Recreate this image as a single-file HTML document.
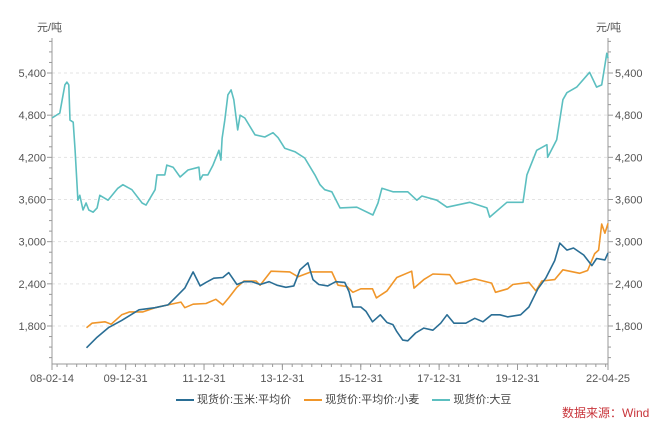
<!DOCTYPE html>
<html><head><meta charset="utf-8"><style>
body{margin:0;background:#fff;}
svg{display:block;font-family:"Liberation Sans","Noto Sans CJK SC",sans-serif;}
</style></head><body>
<svg id="c" width="660" height="426"></svg>
<script>
const yTicks=[1800,2400,3000,3600,4200,4800,5400];
const xTickLabels=["08-02-14","09-12-31","11-12-31","13-12-31","15-12-31","17-12-31","19-12-31","22-04-25"];
const xTickTimes=[2008.12,2010.0,2012.0,2014.0,2016.0,2018.0,2020.0,2022.31];
const cornT=[2009.0,2009.27,2009.57,2009.9,2010.34,2010.75,2011.08,2011.28,2011.51,2011.72,2011.9,2012.05,2012.25,2012.48,2012.63,2012.84,2013.02,2013.22,2013.43,2013.66,2013.86,2014.09,2014.29,2014.45,2014.65,2014.78,2014.93,2015.16,2015.36,2015.59,2015.7,2015.8,2016.0,2016.13,2016.3,2016.5,2016.67,2016.82,2016.92,2017.07,2017.2,2017.4,2017.61,2017.84,2018.04,2018.2,2018.38,2018.68,2018.91,2019.12,2019.34,2019.55,2019.75,2020.08,2020.29,2020.52,2020.72,2020.95,2021.08,2021.26,2021.43,2021.69,2021.9,2022.02,2022.23,2022.31];
const cornV=[1490,1640,1780,1880,2030,2060,2100,2210,2340,2570,2370,2420,2480,2490,2560,2390,2430,2430,2390,2430,2380,2350,2370,2600,2700,2460,2390,2370,2430,2420,2290,2070,2070,2010,1860,1960,1850,1820,1720,1600,1590,1700,1770,1740,1840,1960,1840,1840,1910,1860,1960,1960,1930,1960,2070,2330,2480,2730,2980,2880,2910,2810,2660,2760,2740,2840];
const wheatT=[2009.0,2009.14,2009.47,2009.63,2009.9,2010.1,2010.44,2010.75,2011.08,2011.41,2011.51,2011.72,2012.05,2012.3,2012.48,2012.63,2012.84,2013.02,2013.33,2013.43,2013.71,2014.19,2014.4,2014.73,2015.26,2015.42,2015.65,2015.8,2016.0,2016.3,2016.4,2016.67,2016.92,2017.3,2017.36,2017.61,2017.84,2018.27,2018.43,2018.91,2019.34,2019.44,2019.75,2019.88,2020.29,2020.47,2020.62,2020.95,2021.16,2021.59,2021.79,2021.97,2022.07,2022.15,2022.23,2022.31];
const wheatV=[1775,1840,1860,1825,1960,2000,2000,2060,2100,2140,2060,2110,2120,2180,2100,2200,2350,2440,2440,2380,2580,2570,2500,2570,2570,2380,2360,2280,2330,2330,2200,2300,2490,2580,2340,2460,2540,2530,2400,2470,2410,2280,2330,2390,2420,2300,2440,2460,2600,2550,2590,2830,2880,3250,3120,3260];
const soyT=[2008.12,2008.32,2008.38,2008.45,2008.5,2008.55,2008.58,2008.66,2008.71,2008.78,2008.83,2008.91,2008.99,2009.06,2009.17,2009.27,2009.34,2009.55,2009.8,2009.93,2010.16,2010.42,2010.52,2010.75,2010.8,2011.0,2011.05,2011.21,2011.39,2011.59,2011.87,2011.9,2011.97,2012.1,2012.23,2012.33,2012.38,2012.43,2012.46,2012.53,2012.61,2012.69,2012.76,2012.86,2012.92,2013.04,2013.3,2013.55,2013.76,2013.89,2014.06,2014.32,2014.57,2014.83,2014.96,2015.08,2015.26,2015.47,2015.9,2016.31,2016.44,2016.54,2016.82,2017.2,2017.43,2017.56,2017.94,2018.2,2018.78,2019.22,2019.29,2019.73,2020.14,2020.24,2020.49,2020.75,2020.77,2021.0,2021.16,2021.26,2021.51,2021.84,2022.02,2022.15,2022.23,2022.28,2022.31];
const soyV=[4760,4830,5020,5230,5270,5230,4730,4700,4300,3590,3660,3450,3550,3450,3420,3480,3660,3590,3760,3810,3740,3550,3520,3740,3950,3950,4090,4060,3920,4020,4060,3880,3950,3950,4090,4230,4300,4160,4470,4730,5090,5160,5020,4590,4800,4760,4520,4490,4550,4480,4330,4280,4190,3950,3810,3740,3710,3480,3490,3380,3550,3760,3710,3710,3590,3650,3590,3490,3560,3480,3350,3560,3560,3950,4300,4380,4200,4450,5020,5120,5200,5410,5200,5230,5510,5680,5610];

const L=52,R=608,T=38,B=364;
const xS=t=>L+(t-2008.12)*(R-L)/(2022.31-2008.12);
const yS=v=>73+(5400-v)*(326-73)/3600;
const svg=document.getElementById('c');
const NS='http://www.w3.org/2000/svg';
function mk(tag,attrs,parent){const e=document.createElementNS(NS,tag);for(const k in attrs)e.setAttribute(k,attrs[k]);(parent||svg).appendChild(e);return e;}

// grid
yTicks.forEach(v=>{
  const g=mk('line',{x1:L,x2:R,y1:yS(v),y2:yS(v),stroke:'#e3e3e3','stroke-dasharray':'3,3'});
  
  
});
// axes
[L,R].forEach((x,i)=>{
  const a=mk('line',{x1:x,x2:x,y1:T,y2:B,stroke:'#999'});
  
  
});
const xa=mk('line',{x1:L,x2:R,y1:B,y2:B,stroke:'#999'});


// minor y ticks
for(let v=1350;v<=5850;v+=150){
  const y=yS(v);const big=yTicks.includes(v);
  mk('line',{x1:L-(big?5:3),x2:L,y1:y,y2:y,stroke:'#999'});
  mk('line',{x1:R,x2:R+(big?5:3),y1:y,y2:y,stroke:'#999'});
}
yTicks.forEach(v=>{
  const t1=mk('text',{x:L-6,y:yS(v)+4,'text-anchor':'end','font-size':11,fill:'#555'});
  t1.textContent=v.toLocaleString('en-US');
  
  
  const t2=mk('text',{x:R+7,y:yS(v)+4,'font-size':11,fill:'#555'});
  t2.textContent=v.toLocaleString('en-US');
  
  
});
// minor x ticks
for(let t=2008.25;t<2022.31;t+=0.25){mk('line',{x1:xS(t),x2:xS(t),y1:B,y2:B+3,stroke:'#999'});}
xTickTimes.forEach((t,i)=>{
  mk('line',{x1:xS(t),x2:xS(t),y1:B,y2:B+6,stroke:'#999'});
  const tx=mk('text',{x:xS(t),y:B+18,'text-anchor':'middle','font-size':11,fill:'#555'});
  tx.textContent=xTickLabels[i];
  
  
});
function line(ts,vs,color,name){
  const d=ts.map((t,i)=>(i?'L':'M')+xS(t).toFixed(1)+','+yS(vs[i]).toFixed(1)).join('');
  const p=mk('path',{d:d,fill:'none',stroke:color,'stroke-width':1.6,'stroke-linejoin':'round'});
  
  
}
line(soyT,soyV,'#5cbfc0','soybean-line');
line(wheatT,wheatV,'#f0962a','wheat-line');
line(cornT,cornV,'#2a6e95','corn-line');
</script>
<div style="position:absolute;left:0;top:0;width:660px;height:426px;pointer-events:none;font-family:'Liberation Sans','Noto Sans CJK SC',sans-serif;">
  <div style="position:absolute;left:37px;top:19px;font-size:11px;color:#555;">元/吨</div>
  <div style="position:absolute;left:596px;top:19px;font-size:11px;color:#555;">元/吨</div>
  <div style="position:absolute;left:176px;top:391px;font-size:11px;color:#444;white-space:nowrap;">
    <span><span style="display:inline-block;width:18px;height:2px;background:#2a6e95;vertical-align:middle;margin-right:3px;"></span>现货价:玉米:平均价</span>
    <span style="margin-left:10px;"><span style="display:inline-block;width:18px;height:2px;background:#f0962a;vertical-align:middle;margin-right:3px;"></span>现货价:平均价:小麦</span>
    <span style="margin-left:10px;"><span style="display:inline-block;width:18px;height:2px;background:#5cbfc0;vertical-align:middle;margin-right:3px;"></span>现货价:大豆</span>
  </div>
  <div style="position:absolute;left:562px;top:404px;font-size:12px;color:#c8343a;">数据来源：Wind</div>
</div>
</body></html>
